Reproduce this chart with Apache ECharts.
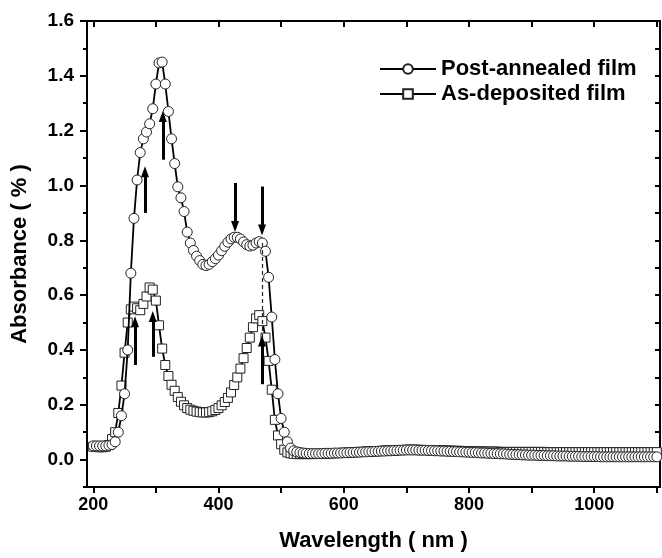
<!DOCTYPE html>
<html>
<head>
<meta charset="utf-8">
<script src="https://cdn.jsdelivr.net/npm/echarts@6/dist/echarts.min.js"></script>
<style>html,body{margin:0;padding:0;background:#fff}#c{width:662px;height:558px}</style>
</head>
<body>
<div id="c"></div>
<script>
// ---- data ----
var wavelength = [
200,205,210,215,220,225,230,235,240,245,
250,255,260,265,270,275,280,285,290,295,
300,305,310,315,320,325,330,335,340,345,
350,355,360,365,370,375,380,385,390,395,
400,405,410,415,420,425,430,435,440,445,
450,455,460,465,470,475,480,485,490,495,
500,505,510,515,520,525,530,535,540,545,
550,555,560,565,570,575,580,585,590,595,
600,605,610,615,620,625,630,635,640,645,
650,655,660,665,670,675,680,685,690,695,
700,705,710,715,720,725,730,735,740,745,
750,755,760,765,770,775,780,785,790,795,
800,805,810,815,820,825,830,835,840,845,
850,855,860,865,870,875,880,885,890,895,
900,905,910,915,920,925,930,935,940,945,
950,955,960,965,970,975,980,985,990,995,
1000,1005,1010,1015,1020,1025,1030,1035,1040,1045,
1050,1055,1060,1065,1070,1075,1080,1085,1090,1095,
1100];

var postAnnealed = [
0.05,0.05,0.05,0.05,0.05,0.052,0.055,0.065,0.10,0.16,
0.24,0.40,0.68,0.88,1.02,1.12,1.17,1.195,1.225,1.28,
1.37,1.447,1.45,1.37,1.27,1.17,1.08,0.995,0.955,0.905,
0.83,0.79,0.763,0.742,0.726,0.712,0.708,0.712,0.722,0.733,
0.746,0.762,0.778,0.793,0.805,0.811,0.811,0.805,0.794,0.784,
0.779,0.782,0.79,0.795,0.79,0.76,0.665,0.52,0.365,0.24,
0.15,0.10,0.065,0.042,0.032,0.028,0.026,0.024,0.023,0.022,
0.022,0.022,0.022,0.022,0.023,0.023,0.023,0.024,0.024,0.024,
0.025,0.025,0.026,0.026,0.027,0.027,0.028,0.028,0.029,0.029,
0.030,0.030,0.031,0.031,0.032,0.032,0.033,0.033,0.034,0.034,
0.035,0.035,0.035,0.035,0.034,0.034,0.034,0.033,0.033,0.032,
0.032,0.031,0.031,0.030,0.030,0.029,0.029,0.028,0.028,0.027,
0.027,0.026,0.026,0.025,0.024,0.024,0.023,0.023,0.022,0.022,
0.021,0.021,0.020,0.019,0.019,0.018,0.018,0.017,0.017,0.016,
0.016,0.016,0.015,0.015,0.015,0.014,0.014,0.014,0.013,0.013,
0.013,0.013,0.012,0.012,0.012,0.012,0.011,0.011,0.011,0.011,
0.011,0.011,0.010,0.010,0.010,0.010,0.010,0.010,0.010,0.010,
0.010,0.010,0.010,0.010,0.010,0.010,0.010,0.010,0.010,0.010,
0.010];

var asDeposited = [
0.047,0.046,0.045,0.045,0.047,0.053,0.075,0.10,0.17,0.27,
0.39,0.50,0.548,0.558,0.552,0.545,0.568,0.595,0.628,0.62,
0.58,0.49,0.405,0.345,0.305,0.273,0.251,0.228,0.211,0.198,
0.188,0.182,0.178,0.175,0.173,0.172,0.172,0.173,0.176,0.181,
0.188,0.198,0.21,0.225,0.245,0.272,0.30,0.332,0.37,0.407,
0.445,0.483,0.515,0.527,0.505,0.445,0.36,0.255,0.145,0.088,
0.056,0.036,0.026,0.023,0.021,0.020,0.020,0.020,0.020,0.020,
0.020,0.021,0.021,0.021,0.022,0.022,0.023,0.023,0.024,0.024,
0.025,0.025,0.026,0.027,0.027,0.028,0.028,0.029,0.030,0.030,
0.031,0.031,0.032,0.033,0.033,0.034,0.034,0.035,0.035,0.035,
0.036,0.036,0.036,0.036,0.036,0.035,0.035,0.035,0.035,0.034,
0.034,0.034,0.033,0.033,0.033,0.032,0.032,0.032,0.031,0.031,
0.031,0.030,0.030,0.030,0.030,0.029,0.029,0.029,0.029,0.029,
0.028,0.028,0.028,0.028,0.028,0.028,0.028,0.028,0.028,0.028,
0.028,0.028,0.028,0.028,0.028,0.027,0.027,0.027,0.027,0.027,
0.027,0.027,0.027,0.027,0.027,0.027,0.027,0.027,0.027,0.027,
0.027,0.027,0.027,0.027,0.027,0.027,0.027,0.027,0.027,0.027,
0.027,0.027,0.027,0.027,0.027,0.027,0.027,0.027,0.027,0.027,
0.027];

var seriesNames = ['Post-annealed film', 'As-deposited film'];
var xLabelValues = [200, 400, 600, 800, 1000];
var xTickValues = [200, 300, 400, 500, 600, 700, 800, 900, 1000, 1100];
var yLabelValues = [0, 0.2, 0.4, 0.6, 0.8, 1.0, 1.2, 1.4, 1.6];
var yMinorValues = [-0.1, 0.1, 0.3, 0.5, 0.7, 0.9, 1.1, 1.3, 1.5];
var yAllTicks = [-0.1, 0, 0.1, 0.2, 0.3, 0.4, 0.5, 0.6, 0.7, 0.8, 0.9, 1.0, 1.1, 1.2, 1.3, 1.4, 1.5, 1.6];

// arrow annotations: [wavelength, from, to] (head at "to")
var arrowsUp = [[282.6, 0.90, 1.05], [311, 1.094, 1.252], [266.7, 0.345, 0.503], [295, 0.375, 0.522], [469.5, 0.275, 0.433]];
var arrowsDown = [[426.4, 1.009, 0.85], [469.5, 0.996, 0.838]];
var dashedGuide = [469.5, 0.79, 0.43];

// ---- build ----
function pairs(xs, ys) { return xs.map(function (x, i) { return [x, ys[i]]; }); }
var FONT = '"Liberation Sans", Arial, sans-serif';

var arrowData = arrowsUp.concat(arrowsDown).map(function (a) {
  return [{ coord: [a[0], a[1]], symbol: 'none' }, { coord: [a[0], a[2]], symbol: 'triangle' }];
});

var chart = echarts.init(document.getElementById('c'), null, { renderer: 'canvas' });
var axisLineStyle = { color: '#000', width: 2 };

chart.setOption({
  animation: false,
  backgroundColor: '#fff',
  grid: { left: 87, right: 2, top: 21, bottom: 71, containLabel: false },
  legend: {
    data: seriesNames,
    orient: 'vertical',
    left: 379,
    top: 58,
    padding: 0,
    itemWidth: 56,
    itemHeight: 12,
    itemGap: 3,
    textStyle: { fontFamily: FONT, fontWeight: 'bold', fontSize: 22, color: '#000' }
  },
  xAxis: [
    {
      type: 'value', position: 'bottom', min: 190, max: 1105,
      axisLine: { show: true, onZero: false, lineStyle: axisLineStyle },
      axisTick: { show: true, inside: false, length: 6, lineStyle: { color: '#000', width: 2 }, customValues: xTickValues },
      axisLabel: { show: true, margin: 9, customValues: xLabelValues, formatter: function (v) { return String(v); }, fontFamily: FONT, fontWeight: 'bold', fontSize: 18, color: '#000' },
      splitLine: { show: false },
      name: 'Wavelength ( nm )', nameLocation: 'middle', nameGap: 43,
      nameTextStyle: { fontFamily: FONT, fontWeight: 'bold', fontSize: 22, color: '#000' }
    },
    {
      type: 'value', position: 'top', min: 190, max: 1105,
      axisLine: { show: true, onZero: false, lineStyle: axisLineStyle },
      axisTick: { show: true, inside: true, length: 6, lineStyle: { color: '#000', width: 2 }, customValues: xTickValues },
      axisLabel: { show: false },
      splitLine: { show: false }
    }
  ],
  yAxis: [
    {
      type: 'value', position: 'left', min: -0.1, max: 1.6,
      axisLine: { show: true, onZero: false, lineStyle: axisLineStyle },
      axisTick: { show: true, inside: false, length: 7, lineStyle: { color: '#000', width: 2 }, customValues: yLabelValues },
      axisLabel: { show: true, margin: 13, customValues: yLabelValues, formatter: function (v) { return v.toFixed(1); }, fontFamily: FONT, fontWeight: 'bold', fontSize: 19, color: '#000' },
      splitLine: { show: false },
      name: 'Absorbance ( % )', nameLocation: 'middle', nameGap: 56,
      nameTextStyle: { fontFamily: FONT, fontWeight: 'bold', fontSize: 22, color: '#000' }
    },
    {
      type: 'value', position: 'left', min: -0.1, max: 1.6,
      axisLine: { show: false },
      axisTick: { show: true, inside: false, length: 4, lineStyle: { color: '#000', width: 2 }, customValues: yMinorValues },
      axisLabel: { show: false },
      splitLine: { show: false }
    },
    {
      type: 'value', position: 'right', min: -0.1, max: 1.6,
      axisLine: { show: true, onZero: false, lineStyle: axisLineStyle },
      axisTick: { show: true, inside: true, length: 5, lineStyle: { color: '#000', width: 2 }, customValues: yAllTicks },
      axisLabel: { show: false },
      splitLine: { show: false }
    }
  ],
  series: [
    {
      name: seriesNames[1], type: 'line', xAxisIndex: 0, yAxisIndex: 0,
      data: pairs(wavelength, asDeposited),
      symbol: 'rect', symbolSize: 9, showAllSymbol: true,
      lineStyle: { color: '#000', width: 1.8 },
      itemStyle: { color: '#fff', borderColor: '#222', borderWidth: 1 },
      z: 3,
      markLine: {
        silent: true, animation: false, symbol: 'none',
        label: { show: false },
        lineStyle: { color: '#222', width: 1.2, type: [4, 3] },
        data: [[{ coord: [dashedGuide[0], dashedGuide[1]] }, { coord: [dashedGuide[0], dashedGuide[2]] }]]
      }
    },
    {
      name: seriesNames[0], type: 'line', xAxisIndex: 0, yAxisIndex: 0,
      data: pairs(wavelength, postAnnealed),
      symbol: 'circle', symbolSize: 10, showAllSymbol: true,
      lineStyle: { color: '#000', width: 1.8 },
      itemStyle: { color: '#fff', borderColor: '#222', borderWidth: 1 },
      z: 4,
      markLine: {
        silent: true, animation: false,
        symbol: ['none', 'triangle'], symbolSize: [8, 11],
        label: { show: false },
        lineStyle: { color: '#000', width: 3, type: 'solid' },
        data: arrowData
      }
    }
  ]
});
</script>
</body>
</html>
